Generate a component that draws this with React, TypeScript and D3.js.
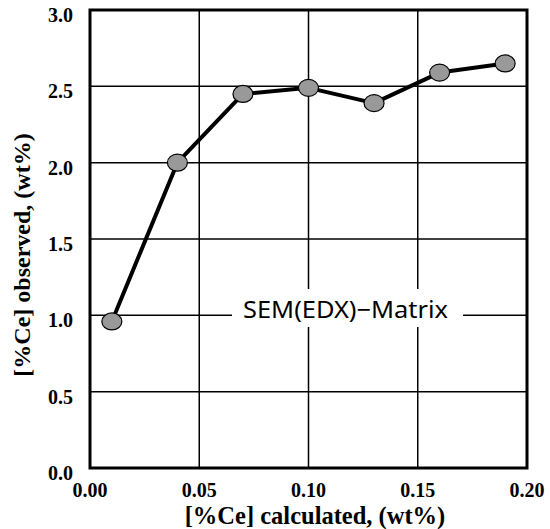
import React from "react";
import * as d3 from "d3";

const xValues = [0.01, 0.04, 0.07, 0.1, 0.13, 0.16, 0.19];
const yValues = [0.96, 2.0, 2.45, 2.49, 2.39, 2.59, 2.65];
const xTicks = [0, 0.05, 0.1, 0.15, 0.2];
const yTicks = [0, 0.5, 1.0, 1.5, 2.0, 2.5, 3.0];
const xTitle = "[%Ce] calculated, (wt%)";
const yTitle = "[%Ce] observed, (wt%)";
const label = "SEM(EDX)\u2212Matrix";

export default function App() {
  const W = 550, H = 529;
  const left = 90, right = 527, top = 10, bottom = 468;
  const x = d3.scaleLinear().domain([0, 0.2]).range([left, right]);
  const y = d3.scaleLinear().domain([0, 3]).range([bottom, top]);
  const pts = xValues.map((v, i) => [x(v), y(yValues[i])] as [number, number]);
  const line = d3.line()(pts) || "";
  const serif = "'Liberation Serif', 'DejaVu Serif', serif";
  return (
    <svg width={W} height={H} style={{ position: "absolute", left: 0, top: 0 }}>
      <rect x={0} y={0} width={W} height={H} fill="#fff" />
      {xTicks.slice(1, -1).map((t) => (
        <line key={"gx" + t} x1={x(t)} x2={x(t)} y1={top} y2={bottom} stroke="#000" strokeWidth={1.5} />
      ))}
      {yTicks.slice(1, -1).map((t) => (
        <line key={"gy" + t} x1={left} x2={right} y1={y(t)} y2={y(t)} stroke="#000" strokeWidth={1.5} />
      ))}
      <rect x={232} y={289} width={231} height={38} fill="#fff" />
      <text x={345.5} y={318} textAnchor="middle" fontFamily="'Noto Sans', 'DejaVu Sans', sans-serif" fontSize={23} fill="#000" textLength={205} lengthAdjust="spacingAndGlyphs">{label}</text>
      <rect x={left} y={top} width={right - left} height={bottom - top} fill="none" stroke="#000" strokeWidth={3} />
      <path d={line} fill="none" stroke="#000" strokeWidth={4} strokeLinejoin="round" />
      {pts.map((p, i) => (
        <ellipse key={i} cx={p[0]} cy={p[1]} rx={10} ry={8.5} fill="#999" stroke="#000" strokeWidth={1.2} />
      ))}
      {yTicks.map((t) => (
        <text key={"ty" + t} x={73} y={y(t) + 12} textAnchor="end" fontFamily={serif} fontWeight="bold" fontSize={20} fill="#000">{t.toFixed(1)}</text>
      ))}
      {xTicks.map((t) => (
        <text key={"tx" + t} x={x(t)} y={497} textAnchor="middle" fontFamily={serif} fontWeight="bold" fontSize={20} fill="#000">{t.toFixed(2)}</text>
      ))}
      <text x={315} y={524} textAnchor="middle" fontFamily={serif} fontWeight="bold" fontSize={24.5} fill="#000">{xTitle}</text>
      <text transform="translate(30,255) rotate(-90)" textAnchor="middle" fontFamily={serif} fontWeight="bold" fontSize={24} fill="#000">{yTitle}</text>
    </svg>
  );
}
